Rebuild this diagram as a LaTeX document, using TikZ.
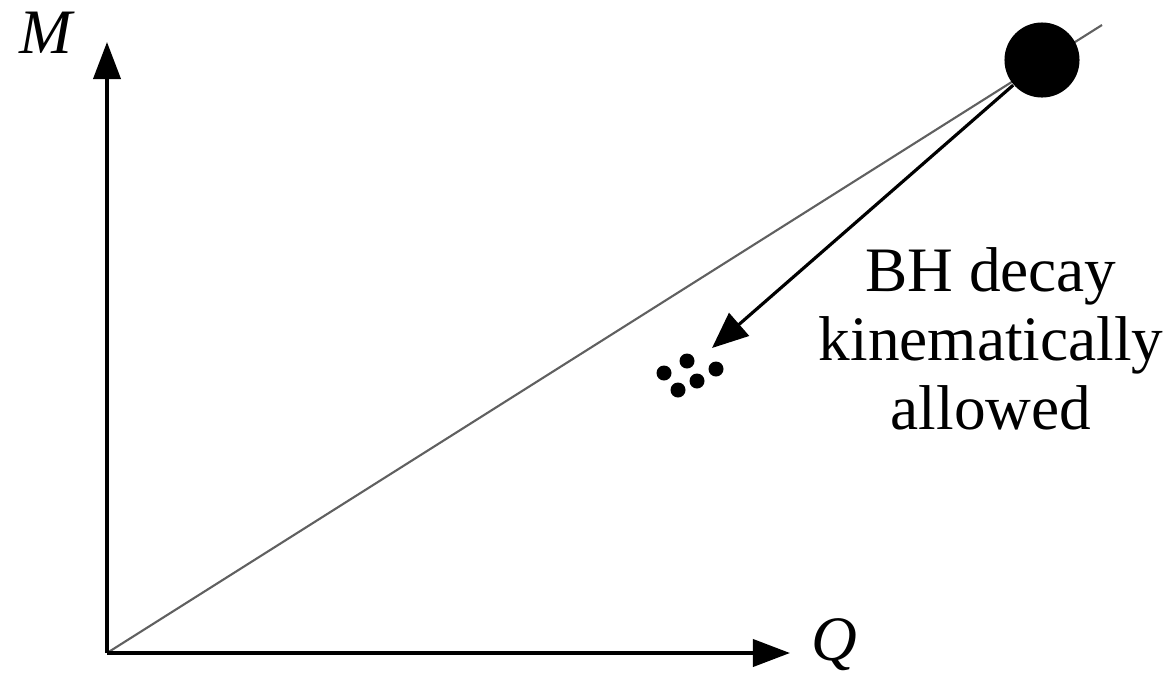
\documentclass[tikz,border=0pt]{standalone}
\usepackage{fontspec}
\setmainfont{Liberation Serif}
\usetikzlibrary{arrows.meta, positioning}
\definecolor{mline}{HTML}{606060}
\tikzset{
  axis/.style={-{Triangle[length=0.37cm, width=0.27cm]}, line width=1.1pt, black},
  diag/.style={draw=mline, line width=0.6pt},
  decay/.style={-{Triangle[length=0.36cm, width=0.30cm]}, line width=0.9pt, black},
  bhole/.style={circle, fill=black, inner sep=0pt, minimum size=0.75cm},
  axlabel/.style={font=\fontsize{18}{20}\selectfont\itshape, inner sep=0pt},
  note/.style={font=\fontsize{18}{19.6}\selectfont, align=center, inner sep=0pt},
}
\begin{document}
\begin{tikzpicture}[x=0.01cm, y=-0.01cm]
  \useasboundingbox (0,0) rectangle (1169,678);

  \coordinate (o) at (107,653);
  \coordinate (ytip) at (107,42);
  \coordinate (xtip) at (790,653);
  \coordinate (lineend) at (1102,25);
  \coordinate (tip) at (712,348);

  \draw[diag] (o) -- (lineend);
  \node[bhole] (bh) at (1042,60) {};

  \draw[axis] (o) -- (ytip);
  \draw[axis] (o) -- (xtip);

  \node[axlabel] (mlab) at (46,33) {M};
  \node[axlabel] (qlab) at (834,645) {Q};

  \draw[decay] (bh) -- (tip);

  % remnants
  \foreach \px/\py in {687/361, 664/373, 716/369, 697/381, 678/390}
    \fill (\px,\py) circle[radius=7.5];

  \node[note] (txt) at (991,339) {BH decay\\kinematically\\allowed};
\end{tikzpicture}
\end{document}
